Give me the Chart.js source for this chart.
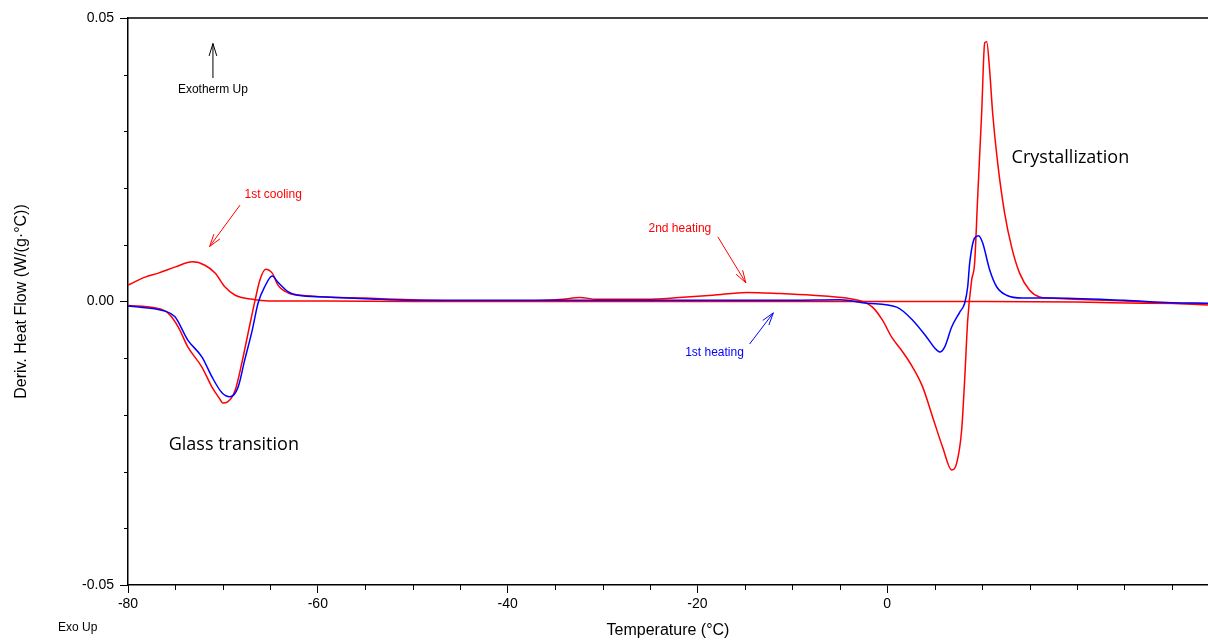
<!DOCTYPE html>
<html>
<head>
<meta charset="utf-8">
<script src="https://cdn.jsdelivr.net/npm/chart.js@4/dist/chart.umd.min.js"></script>
<style>
html,body{margin:0;padding:0;background:#fff;}
#wrap{width:1208px;height:640px;position:relative;}
</style>
</head>
<body>
<div id="wrap"><canvas id="c" width="1208" height="640"></canvas></div>
<script>
// ---- Data ----
const coolingT = [-80, -78.2, -76.8, -75.0, -73.2, -71.9, -70.8, -69.8, -68.7, -66.9, -65.2, -59.2, -50, -40, -20, 0, 10, 20, 27, 33.8];
const coolingFlow = [0.0029, 0.0043, 0.0050, 0.0061, 0.0070, 0.0064, 0.0050, 0.0026, 0.0011, 0.0004, 0.0001, 0.0001, 0.0, 0.0, 0.0, 0.0, 0.0, -0.0001, -0.0003, -0.0004];

const heating2T = [-80, -77.2, -75.8, -74.7, -73.7, -72.2, -71.15, -70.4, -70.0, -69.5, -68.7, -68.0, -67.35, -66.6, -66.1, -65.5, -64.8, -64.2, -63.1, -61.7, -59.2, -55, -50, -45, -38, -34.2, -32.4, -30.6, -25.3, -21.9, -18.4, -14.8, -11.3, -7.85, -4.3, -2.6, -1.55, -0.5, 0.47, 1.63, 2.68, 3.74, 4.79, 5.84, 6.79, 7.32, 7.84, 8.16, 8.48, 8.9, 9.21, 9.53, 9.95, 10.27, 10.48, 10.79, 11.11, 11.64, 12.37, 13.11, 13.95, 15.0, 16.06, 17.1, 25, 30, 33.8];
const heating2Flow = [-0.0007, -0.0011, -0.0020, -0.0045, -0.0080, -0.0116, -0.0151, -0.0170, -0.0179, -0.0177, -0.0156, -0.0108, -0.0056, 0.0003, 0.0038, 0.0057, 0.0050, 0.0029, 0.0015, 0.0011, 0.0008, 0.0006, 0.0003, 0.0001, 0.0001, 0.0004, 0.0007, 0.0004, 0.0004, 0.0007, 0.0011, 0.0016, 0.0014, 0.0011, 0.0006, 0.0, -0.0010, -0.0033, -0.0063, -0.0089, -0.0116, -0.0151, -0.0204, -0.0257, -0.0297, -0.0285, -0.0227, -0.0138, -0.0033, 0.0038, 0.0068, 0.0184, 0.0332, 0.0456, 0.0458, 0.0408, 0.0332, 0.0244, 0.0156, 0.0096, 0.0050, 0.0020, 0.0008, 0.0006, 0.0001, -0.0003, -0.0006];

const heating1T = [-80, -76.1, -75.05, -73.7, -72.2, -71.15, -70.1, -69.25, -68.4, -67.7, -66.9, -66.3, -65.6, -64.8, -64.2, -63.1, -62.1, -59.2, -55, -50, -40, -30, -20, -10, -5.0, -2.16, 1.0, 2.68, 4.16, 5.0, 5.53, 6.06, 6.79, 7.63, 8.16, 8.48, 8.69, 9.21, 9.63, 10.06, 10.79, 11.53, 12.58, 14.27, 17.1, 25, 30, 33.8];
const heating1Flow = [-0.0008, -0.0017, -0.0027, -0.0068, -0.0098, -0.0133, -0.0161, -0.0168, -0.0151, -0.0103, -0.0050, -0.0003, 0.0026, 0.0045, 0.0034, 0.0017, 0.0011, 0.0008, 0.0005, 0.0002, 0.0002, 0.0002, 0.0002, 0.0002, 0.0003, -0.0003, -0.0010, -0.0033, -0.0063, -0.0082, -0.0089, -0.0080, -0.0045, -0.0019, -0.0003, 0.0026, 0.0068, 0.0112, 0.0116, 0.0103, 0.0056, 0.0026, 0.0011, 0.0006, 0.0006, 0.0002, -0.0002, -0.0003];

const xTickValues = [-80, -75, -70, -65, -60, -55, -50, -45, -40, -35, -30, -25, -20, -15, -10, -5, 0, 5, 10, 15, 20, 25, 30];
const xLabelValues = [-80, -60, -40, -20, 0];
const yTickValues = [-0.05, -0.04, -0.03, -0.02, -0.01, 0, 0.01, 0.02, 0.03, 0.04, 0.05];
const yLabelValues = [-0.05, 0, 0.05];

const seriesNames = ['1st cooling', '2nd heating', '1st heating'];
const noteTexts = ['Exotherm Up', '1st cooling', '2nd heating', '1st heating', 'Glass transition', 'Crystallization'];

// ---- helpers ----
const pairs = (xs, ys) => xs.map((x, i) => ({x: x, y: ys[i]}));
const isIn = (v, arr) => arr.some(a => Math.abs(a - v) < 1e-9);

const RED = '#ff0000';
const BLUE = '#0000ff';
const SMALL = '12px "Liberation Sans", Arial, sans-serif';
const BIG = '18px "Open Sans", sans-serif';

// annotation layout (data coordinates)
const notes = [
  {text: noteTexts[0], t: -71.05, v: 0.0373, color: '#000', font: SMALL,
   arrow: [[-71.05, 0.0394], [-71.05, 0.0455]]},
  {text: noteTexts[1], t: -64.7, v: 0.0188, color: RED, font: SMALL,
   arrow: [[-68.2, 0.0170], [-71.4, 0.0097]]},
  {text: noteTexts[2], t: -21.85, v: 0.0128, color: RED, font: SMALL,
   arrow: [[-17.85, 0.0114], [-14.9, 0.0033]]},
  {text: noteTexts[3], t: -18.2, v: -0.0091, color: BLUE, font: SMALL,
   arrow: [[-14.5, -0.0075], [-12.0, -0.0020]]},
  {text: noteTexts[4], t: -68.85, v: -0.0253, color: '#000', font: BIG},
  {text: noteTexts[5], t: 19.3, v: 0.0253, color: '#000', font: BIG}
];

const decor = {
  id: 'decor',
  afterDraw(chart) {
    const {ctx, chartArea: a, scales: {x, y}} = chart;
    ctx.save();
    ctx.strokeStyle = '#000';
    ctx.lineWidth = 1.5;
    ctx.beginPath();
    ctx.moveTo(a.left, a.top);
    ctx.lineTo(a.right, a.top);
    ctx.stroke();
    ctx.lineWidth = 1;
    ctx.beginPath();
    xTickValues.forEach(v => {
      if (isIn(v, xLabelValues)) return;
      const px = Math.round(x.getPixelForValue(v)) + 0.5;
      ctx.moveTo(px, a.bottom);
      ctx.lineTo(px, a.bottom + 5);
    });
    yTickValues.forEach(v => {
      if (isIn(v, yLabelValues)) return;
      const py = Math.round(y.getPixelForValue(v)) + 0.5;
      ctx.moveTo(a.left, py);
      ctx.lineTo(a.left - 4, py);
    });
    ctx.stroke();
    notes.forEach(n => {
      ctx.font = n.font;
      ctx.fillStyle = n.color;
      ctx.textAlign = 'center';
      ctx.textBaseline = 'middle';
      ctx.fillText(n.text, x.getPixelForValue(n.t), y.getPixelForValue(n.v));
      if (n.arrow) {
        const x0 = x.getPixelForValue(n.arrow[0][0]), y0 = y.getPixelForValue(n.arrow[0][1]);
        const x1 = x.getPixelForValue(n.arrow[1][0]), y1 = y.getPixelForValue(n.arrow[1][1]);
        const ang = Math.atan2(y1 - y0, x1 - x0);
        const L = 13, w = 0.3;
        ctx.strokeStyle = n.color;
        ctx.lineWidth = 1;
        ctx.beginPath();
        ctx.moveTo(x0, y0); ctx.lineTo(x1, y1);
        ctx.moveTo(x1 - L * Math.cos(ang - w), y1 - L * Math.sin(ang - w));
        ctx.lineTo(x1, y1);
        ctx.lineTo(x1 - L * Math.cos(ang + w), y1 - L * Math.sin(ang + w));
        ctx.stroke();
      }
    });
    ctx.font = SMALL;
    ctx.fillStyle = '#000';
    ctx.textAlign = 'left';
    ctx.textBaseline = 'middle';
    ctx.fillText('Exo Up', 58, 628);
    ctx.restore();
  }
};

const baseLine = {fill: false, pointRadius: 0, borderWidth: 1.5, cubicInterpolationMode: 'monotone'};

new Chart(document.getElementById('c'), {
  type: 'line',
  data: {
    datasets: [
      Object.assign({label: seriesNames[2], data: pairs(heating1T, heating1Flow), borderColor: BLUE}, baseLine),
      Object.assign({label: seriesNames[0], data: pairs(coolingT, coolingFlow), borderColor: RED}, baseLine),
      Object.assign({label: seriesNames[1], data: pairs(heating2T, heating2Flow), borderColor: RED}, baseLine)
    ]
  },
  options: {
    responsive: false,
    animation: false,
    devicePixelRatio: 1,
    layout: {padding: {top: 18, right: 0, left: 0, bottom: 0}},
    plugins: {legend: {display: false}, tooltip: {enabled: false}},
    scales: {
      x: {
        type: 'linear',
        min: -80,
        max: 33.8,
        afterBuildTicks: s => { s.ticks = xTickValues.map(v => ({value: v})); },
        afterFit: s => { s.height = 55; },
        ticks: {
          autoSkip: false,
          maxRotation: 0,
          padding: 3,
          color: '#000',
          font: {family: '"Liberation Sans", Arial, sans-serif', size: 14},
          callback: v => isIn(v, xLabelValues) ? String(v) : ''
        },
        grid: {
          drawOnChartArea: false,
          drawTicks: true,
          tickLength: 8,
          tickWidth: 1,
          tickColor: c => (c.tick && isIn(c.tick.value, xLabelValues)) ? '#000' : 'rgba(0,0,0,0)'
        },
        border: {display: true, color: '#000', width: 1.5},
        title: {
          display: true,
          text: 'Temperature (°C)',
          color: '#000',
          font: {family: '"Liberation Sans", Arial, sans-serif', size: 16},
          padding: {top: 0, bottom: 0}
        }
      },
      y: {
        type: 'linear',
        min: -0.05,
        max: 0.05,
        afterBuildTicks: s => { s.ticks = yTickValues.map(v => ({value: v})); },
        afterFit: s => { s.width = 128; },
        ticks: {
          autoSkip: false,
          padding: 6,
          color: '#000',
          font: {family: '"Liberation Sans", Arial, sans-serif', size: 14},
          callback: v => isIn(v, yLabelValues) ? Number(v).toFixed(2) : ''
        },
        grid: {
          drawOnChartArea: false,
          drawTicks: true,
          tickLength: 8,
          tickWidth: 1,
          tickColor: c => (c.tick && isIn(c.tick.value, yLabelValues)) ? '#000' : 'rgba(0,0,0,0)'
        },
        border: {display: true, color: '#000', width: 1.5},
        title: {
          display: true,
          text: 'Deriv. Heat Flow (W/(g·°C))',
          color: '#000',
          font: {family: '"Liberation Sans", Arial, sans-serif', size: 16},
          padding: {top: 12, bottom: 0}
        }
      }
    }
  },
  plugins: [decor]
});
</script>
</body>
</html>
